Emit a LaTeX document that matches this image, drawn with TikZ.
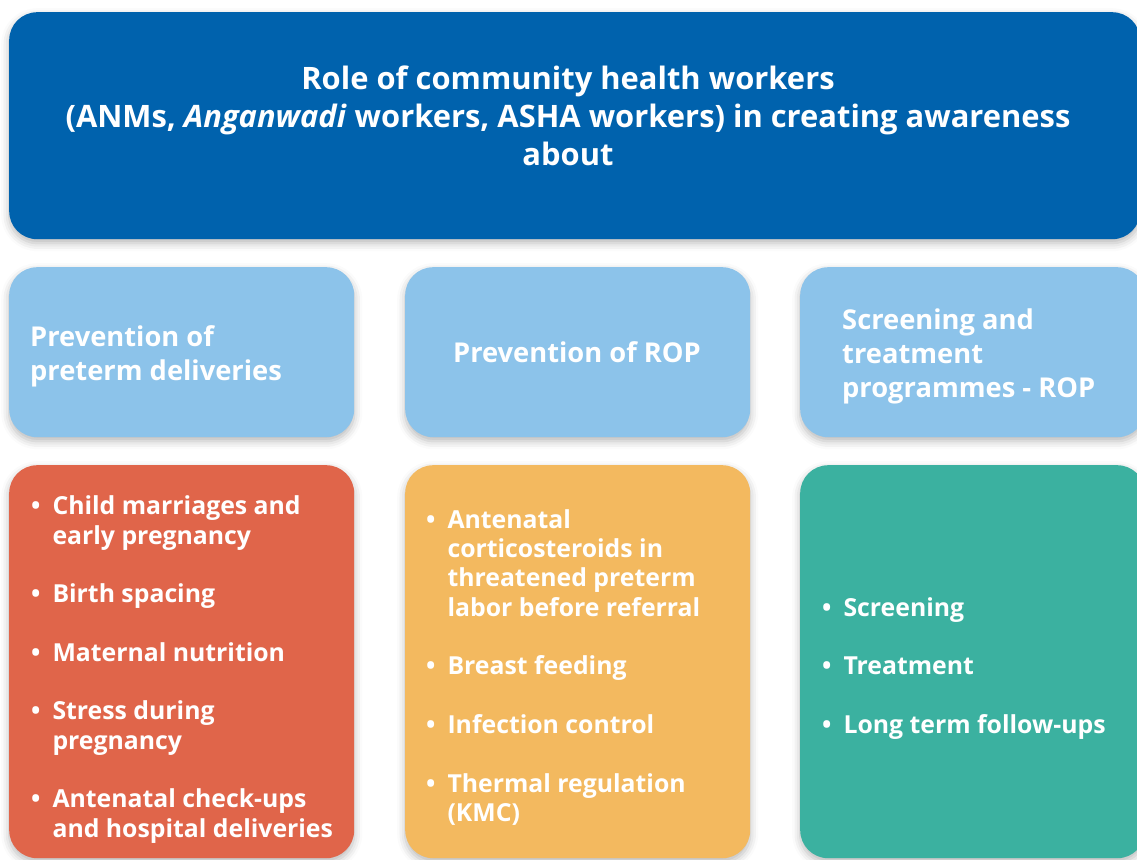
\documentclass[tikz,border=0pt]{standalone}
\usepackage{fontspec}
\setmainfont{Open Sans}
\usetikzlibrary{shadows.blur}
\definecolor{headblue}{RGB}{0,98,173}
\definecolor{skyblue}{RGB}{140,195,234}
\definecolor{brick}{RGB}{224,101,74}
\definecolor{sand}{RGB}{243,185,95}
\definecolor{teal}{RGB}{59,177,160}
\tikzset{
  panel/.style={rounded corners=28pt, inner sep=0pt, anchor=north west,
    blur shadow={shadow xshift=0pt, shadow yshift=-4pt, shadow blur radius=8pt, shadow opacity=28}},
  headtext/.style={text=white, align=center, inner sep=0pt, font=\bfseries\fontsize{30.9}{38}\selectfont},
  labeltext/.style={text=white, align=left, inner sep=0pt, font=\bfseries\fontsize{27.3}{34}\selectfont},
  listtext/.style={text=white, inner sep=0pt, anchor=west, font=\bfseries\fontsize{24.8}{29.3}\selectfont},
}

\begin{document}
\begin{tikzpicture}[x=1pt,y=-1pt]

    \useasboundingbox (0,0) rectangle (1137,859);
    \clip (0,0) rectangle (1137,859);

    % Heading
    \node[panel, fill=headblue, minimum width=1131pt, minimum height=227pt] (head) at (9,12) {};
    \node[headtext] (headlbl) at (568,116) {Role of community health workers\\
        (ANMs, \textit{Anganwadi} workers, ASHA workers) in creating awareness\\
        about};

    % Topic boxes
    \node[panel, fill=skyblue, minimum width=345pt, minimum height=170pt] (topic1) at (9,267) {};
    \node[panel, fill=skyblue, minimum width=345pt, minimum height=170pt] (topic2) at (405,267) {};
    \node[panel, fill=skyblue, minimum width=345pt, minimum height=170pt] (topic3) at (800,267) {};

    \node[labeltext, anchor=west] (topic1lbl) at (30,356) {Prevention of\\preterm deliveries};
    \node[labeltext] (topic2lbl) at (577,352) {Prevention of ROP};
    \node[labeltext, anchor=west] (topic3lbl) at (842,356) {Screening and\\treatment\\programmes - ROP};

    % Lists
    \node[panel, fill=brick, minimum width=345pt, minimum height=393pt] (list1) at (9,465) {};
    \node[panel, fill=sand, minimum width=345pt, minimum height=393pt] (list2) at (405,465) {};
    \node[panel, fill=teal, minimum width=345pt, minimum height=393pt] (list3) at (800,465) {};

    \node[listtext] (list1lbl) at (31,670) {\begin{tabular}{@{}l@{\hspace{12pt}}l@{}}
        \textbullet & Child marriages and\\ & early pregnancy\\[29.3pt]
        \textbullet & Birth spacing\\[29.3pt]
        \textbullet & Maternal nutrition\\[29.3pt]
        \textbullet & Stress during\\ & pregnancy\\[29.3pt]
        \textbullet & Antenatal check-ups\\ & and hospital deliveries
      \end{tabular}};
    \node[listtext] (list2lbl) at (426,669) {\begin{tabular}{@{}l@{\hspace{12pt}}l@{}}
        \textbullet & Antenatal\\ & corticosteroids in\\ & threatened preterm\\ & labor before referral\\[29.3pt]
        \textbullet & Breast feeding\\[29.3pt]
        \textbullet & Infection control\\[29.3pt]
        \textbullet & Thermal regulation\\ & (KMC)
      \end{tabular}};
    \node[listtext] (list3lbl) at (822,669) {\begin{tabular}{@{}l@{\hspace{12pt}}l@{}}
        \textbullet & Screening\\[29.3pt]
        \textbullet & Treatment\\[29.3pt]
        \textbullet & Long term follow-ups
      \end{tabular}};

\end{tikzpicture}
\end{document}
